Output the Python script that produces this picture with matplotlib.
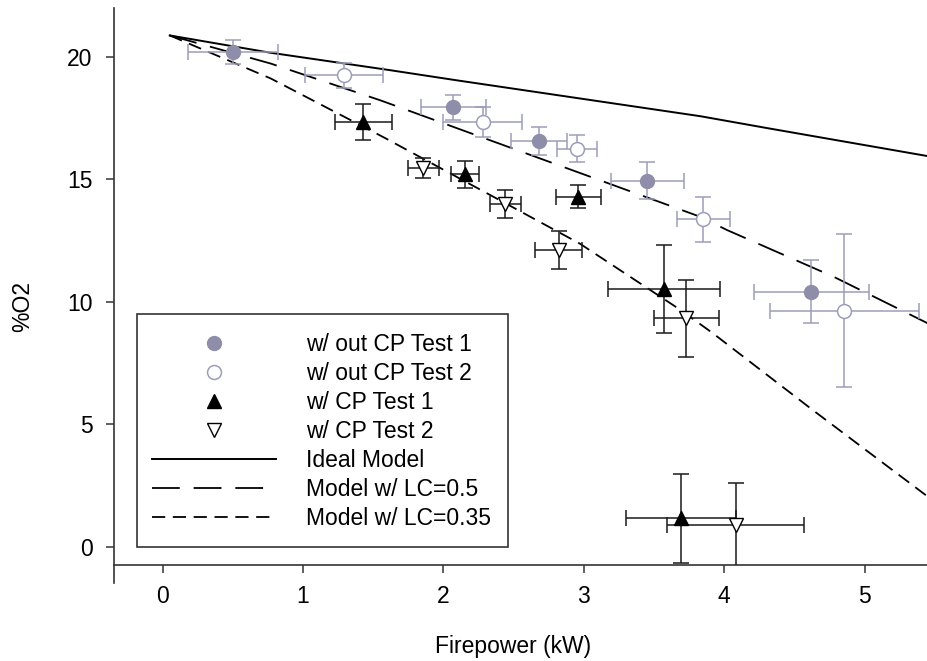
import numpy as np
import matplotlib
matplotlib.use("Agg")
import matplotlib.pyplot as plt
from matplotlib.patches import Rectangle
from matplotlib.lines import Line2D

plt.rcParams['font.family'] = ['Liberation Sans', 'DejaVu Sans']
plt.rcParams['lines.scale_dashes'] = False

# --- measured data (x = firepower kW, y = %O2, with errors) ---
noCP1_x = [0.50, 2.07, 2.68, 3.45, 4.62]
noCP1_y = [20.2, 17.95, 16.56, 14.94, 10.41]
noCP1_xerr = [0.32, 0.23, 0.20, 0.26, 0.41]
noCP1_yerr = [0.50, 0.51, 0.56, 0.75, 1.29]

noCP2_x = [1.29, 2.28, 2.95, 3.85, 4.855]
noCP2_y = [19.25, 17.35, 16.26, 13.37, 9.63]
noCP2_xerr = [0.276, 0.28, 0.14, 0.19, 0.53]
noCP2_yerr = [0.50, 0.60, 0.54, 0.92, 3.12]

CP1_x = [1.43, 2.15, 2.96, 3.57, 3.69]
CP1_y = [17.35, 15.2, 14.29, 10.52, 1.16]
CP1_xerr = [0.20, 0.10, 0.16, 0.40, 0.39]
CP1_yerr = [0.73, 0.55, 0.47, 1.79, 1.82]

CP2_x = [1.856, 2.44, 2.82, 3.73, 4.08]
CP2_y = [15.47, 13.99, 12.11, 9.32, 0.885]
CP2_xerr = [0.11, 0.11, 0.165, 0.23, 0.485]
CP2_yerr = [0.40, 0.57, 0.78, 1.58, 1.71]

# --- model curves ---
ideal_x = [0.05, 0.76, 1.62, 2.09, 3.83, 4.32, 5.45]
ideal_y = [20.88, 20.18, 19.46, 19.05, 17.58, 17.08, 15.95]
lc50_x = [0.05, 0.77, 1.55, 3.83, 4.02, 4.78, 5.45]
lc50_y = [20.88, 19.73, 18.23, 13.47, 12.93, 11.02, 9.12]
lc35_x = [0.05, 0.77, 1.58, 2.97, 3.69, 3.92, 4.63, 5.45]
lc35_y = [20.88, 19.12, 16.7, 12.38, 9.66, 8.71, 5.58, 2.04]

GRAY = '#8e8eaa'
GRAY_BAR = '#9d9dba'
SPINE = '#333333'
LONG = (20, 10)
SHORT = (9.5, 5.5)
FS = 16.5

fig = plt.figure(figsize=(9.27, 6.61), dpi=100)
ax = fig.add_axes([114/927, 1-565/661, 813/927, 557/661])

ax.plot(ideal_x, ideal_y, color='black', lw=1.4, zorder=2)
ax.plot(lc50_x, lc50_y, color='black', lw=1.3, dashes=LONG, zorder=2)
ax.plot(lc35_x, lc35_y, color='black', lw=1.3, dashes=SHORT, zorder=2)

eb = dict(fmt='none', capsize=6, elinewidth=1.1, capthick=1.1, zorder=3)
ax.errorbar(noCP1_x, noCP1_y, xerr=noCP1_xerr, yerr=noCP1_yerr, ecolor=GRAY_BAR, **eb)
ax.errorbar(noCP2_x, noCP2_y, xerr=noCP2_xerr, yerr=noCP2_yerr, ecolor=GRAY_BAR, **eb)
ax.errorbar(CP1_x, CP1_y, xerr=CP1_xerr, yerr=CP1_yerr, ecolor='#1a1a1a', **eb)
ax.errorbar(CP2_x, CP2_y, xerr=CP2_xerr, yerr=CP2_yerr, ecolor='#1a1a1a', **eb)

ax.plot(noCP1_x, noCP1_y, 'o', ms=10, mfc=GRAY, mec=GRAY, zorder=4)
ax.plot(noCP2_x, noCP2_y, 'o', ms=10, mfc='white', mec=GRAY_BAR, mew=1.1, zorder=4)
ax.plot(CP1_x, CP1_y, '^', ms=10, mfc='black', mec='black', zorder=4)
ax.plot(CP2_x, CP2_y, 'v', ms=10, mfc='white', mec='black', mew=1.0, zorder=4)

ax.set_xlim(-0.347, 5.444)
ax.set_ylim(-0.75, 22)
ax.set_xticks([0, 1, 2, 3, 4, 5])
ax.set_yticks([0, 5, 10, 15, 20])
ax.spines['top'].set_visible(False)
ax.spines['right'].set_visible(False)
for s in ('left', 'bottom'):
    ax.spines[s].set_color(SPINE)
    ax.spines[s].set_linewidth(1.2)
ax.spines['left'].set_bounds(-1.48, 22)
ax.tick_params(axis='both', colors=SPINE, labelcolor='black', labelsize=FS,
               length=5.5, width=1.1)
ax.tick_params(axis='x', pad=9)
ax.tick_params(axis='y', pad=10)

fig.text(23/927, 1-307/661, '%O2', rotation=90, ha='center', va='center', fontsize=FS)
fig.text(513/927, 1-647/661, 'Firepower (kW)', ha='center', va='center', fontsize=FS)

# legend box + entries
ax.add_patch(Rectangle((23/813, 18.3/557), 371/813, 232.7/557, transform=ax.transAxes,
                       fill=False, ec=SPINE, lw=1.2, zorder=5))
handles = [
    Line2D([], [], ls='none', marker='o', ms=10, mfc=GRAY, mec=GRAY),
    Line2D([], [], ls='none', marker='o', ms=10, mfc='white', mec=GRAY_BAR, mew=1.1),
    Line2D([], [], ls='none', marker='^', ms=10, mfc='black', mec='black'),
    Line2D([], [], ls='none', marker='v', ms=10, mfc='white', mec='black', mew=1.0),
    Line2D([], [], color='black', lw=1.4),
    Line2D([], [], color='black', lw=1.3, dashes=LONG),
    Line2D([], [], color='black', lw=1.3, dashes=SHORT),
]
labels = ['w/ out CP Test 1', 'w/ out CP Test 2', 'w/ CP Test 1', 'w/ CP Test 2',
          'Ideal Model', 'Model w/ LC=0.5', 'Model w/ LC=0.35']
fs_px = FS * 100 / 72
ax.legend(handles, labels, loc='upper left', bbox_to_anchor=(38/813, (565-333)/557),
          frameon=False, borderpad=0, borderaxespad=0, fontsize=FS, numpoints=1,
          handlelength=124/fs_px, handletextpad=30/fs_px, labelspacing=0.265)

fig.savefig('out.png', dpi=100)
